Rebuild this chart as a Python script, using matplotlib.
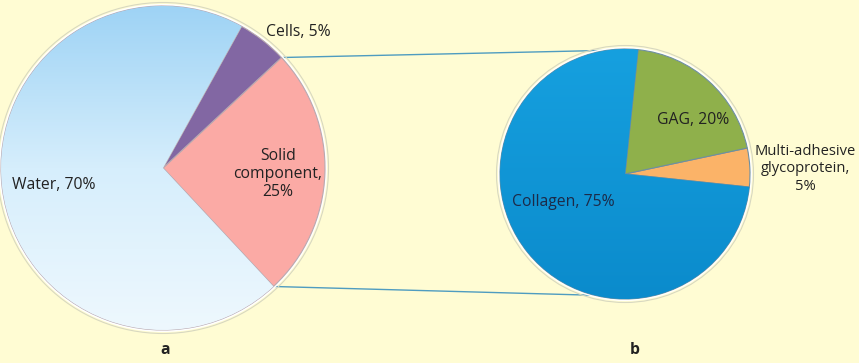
import numpy as np
import matplotlib.pyplot as plt
from matplotlib.colors import LinearSegmentedColormap

# left pie: composition of tissue
left_labels = ["Solid\ncomponent,\n25%", "Cells, 5%", "Water, 70%"]
left_values = [25, 5, 70]
left_colors = ["#fbaaa5", "#8267a3", "#c9e8fb"]

# right pie: solid component breakdown
right_labels = ["Multi-adhesive\nglycoprotein,\n5%", "GAG, 20%", "Collagen, 75%"]
right_values = [5, 20, 75]
right_colors = ["#fbb368", "#8fb04b", "#129ad9"]

bg = "#fffcd3"
W, H = 859, 363

fig = plt.figure(figsize=(W / 100, H / 100), dpi=100, facecolor=bg)
ax = fig.add_axes([0, 0, 1, 1])
ax.set_facecolor(bg)

plt.rcParams["font.family"] = ["Open Sans", "DejaVu Sans"]

lc, lr = (163, 195), 162
rc, rr = (625, 189), 125

# white glow behind both pies
for c, r in [(lc, lr), (rc, rr)]:
    ax.add_patch(plt.Circle(c, r + 2, color="white", zorder=1.5, lw=0))
    ax.add_patch(plt.Circle(c, r + 3.5, fill=False, ec="#d8d8c0", lw=0.8, zorder=1.4))

lw_, _ = ax.pie(left_values, colors=left_colors, startangle=-47, counterclock=True,
                center=lc, radius=lr, frame=True,
                wedgeprops=dict(linewidth=0.8, edgecolor="#b9a9b0", zorder=2))
rw_, _ = ax.pie(right_values, colors=right_colors, startangle=-6, counterclock=True,
                center=rc, radius=rr, frame=True,
                wedgeprops=dict(linewidth=0.8, edgecolor="#6f8fa0", zorder=2))
ax.set_xlim(0, W)
ax.set_ylim(0, H)
ax.set_aspect("equal")
ax.axis("off")

# gradient fill on the water wedge
cmap = LinearSegmentedColormap.from_list("water", ["#eef8fe", "#d6eefc", "#9ed3f5"])
grad = np.linspace(0, 1, 256).reshape(-1, 1)
im = ax.imshow(grad, cmap=cmap, origin="lower", aspect="auto", zorder=2.1,
               extent=[lc[0] - lr, lc[0] + lr, lc[1] - lr, lc[1] + lr])
im.set_clip_path(lw_[2])

# slight gradient on collagen
cmap2 = LinearSegmentedColormap.from_list("coll", ["#0b8bcc", "#16a0df"])
im2 = ax.imshow(grad, cmap=cmap2, origin="lower", aspect="auto", zorder=2.1,
                extent=[rc[0] - rr, rc[0] + rr, rc[1] - rr, rc[1] + rr])
im2.set_clip_path(rw_[2])
ax.set_xlim(0, W)
ax.set_ylim(0, H)

# connector lines from the solid component to the second pie
a1, a2 = np.deg2rad(43), np.deg2rad(-47)
b1, b2 = np.deg2rad(84), np.deg2rad(-104)
ax.plot([lc[0] + lr * np.cos(a1), rc[0] + rr * np.cos(b1)],
        [lc[1] + lr * np.sin(a1), rc[1] + rr * np.sin(b1)], color="#4f9cc0", lw=1, zorder=1)
ax.plot([lc[0] + lr * np.cos(a2), rc[0] + rr * np.cos(b2)],
        [lc[1] + lr * np.sin(a2), rc[1] + rr * np.sin(b2)], color="#4f9cc0", lw=1, zorder=1)

fs = 11.3
tc = "#222222"
ax.text(278, H - 174, left_labels[0], ha="center", va="center", fontsize=fs, color=tc,
        linespacing=1.2, zorder=5)
ax.text(298, H - 32, left_labels[1], ha="center", va="center", fontsize=fs, color=tc, zorder=5)
ax.text(12, H - 185, left_labels[2], ha="left", va="center", fontsize=fs, color=tc, zorder=5)

ax.text(805, H - 169, right_labels[0], ha="center", va="center", fontsize=10.6, color=tc,
        linespacing=1.25, zorder=5)
ax.text(693, H - 120, right_labels[1], ha="center", va="center", fontsize=fs, color=tc, zorder=5)
ax.text(512, H - 202, right_labels[2], ha="left", va="center", fontsize=fs, color="#1c2a48", zorder=5)

ax.text(165, H - 350, "a", ha="center", va="center", fontsize=fs, fontweight="bold", color=tc)
ax.text(635, H - 350, "b", ha="center", va="center", fontsize=fs, fontweight="bold", color=tc)

fig.savefig("out.png", dpi=100, facecolor=bg)
